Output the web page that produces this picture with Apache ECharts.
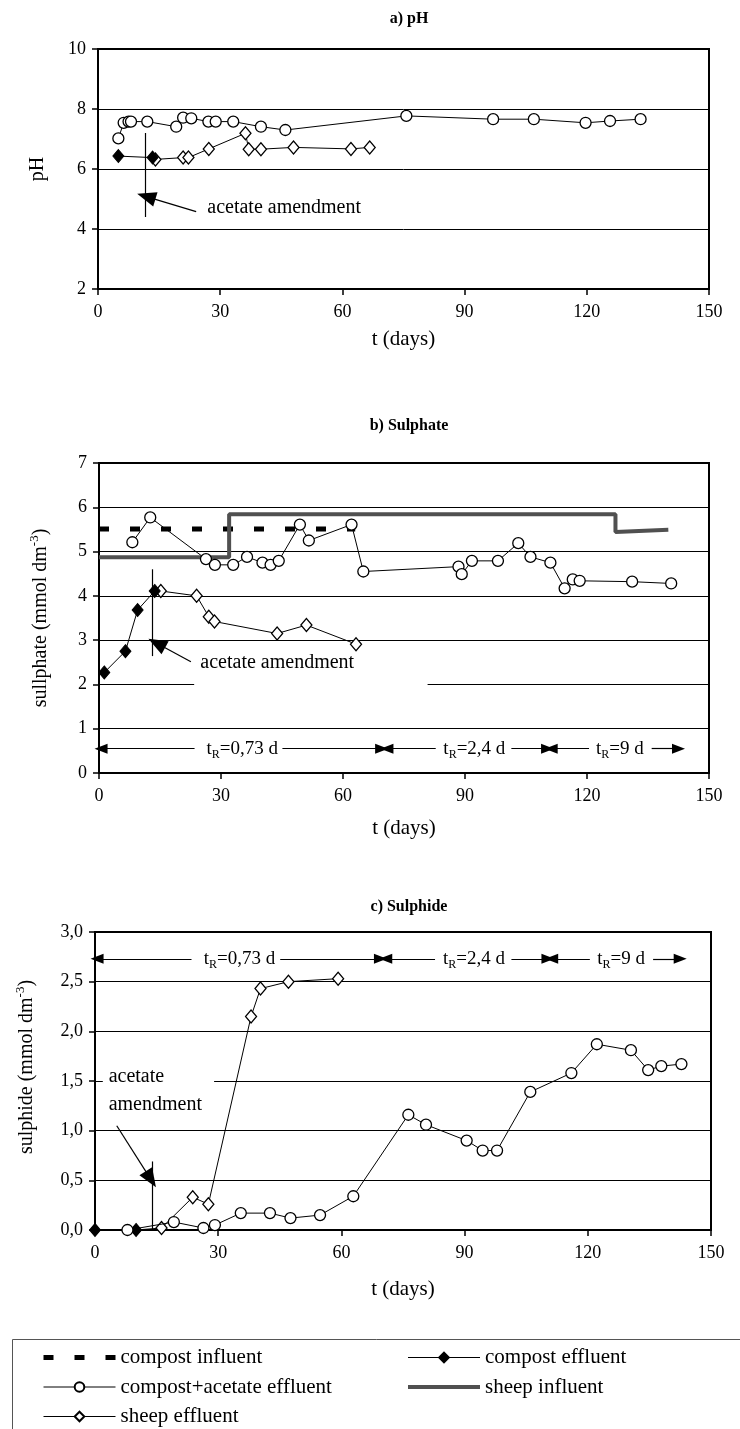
<!DOCTYPE html>
<html><head><meta charset="utf-8">
<script src="https://cdn.jsdelivr.net/npm/echarts@6/dist/echarts.min.js"></script>
<style>html,body{margin:0;padding:0;background:#fff}#c{width:740px;height:1429px}</style>
</head><body><div id="c"></div>
<script>
const FONT = '"Liberation Serif","Times New Roman",serif';

// ---------- tick labels ----------
const xTicks = [0, 30, 60, 90, 120, 150];
const phTicks = [2, 4, 6, 8, 10];
const so4Ticks = [0, 1, 2, 3, 4, 5, 6, 7];
const s2Ticks = [0, 0.5, 1.0, 1.5, 2.0, 2.5, 3.0];

// ---------- a) pH ----------
const phAcetateT = [5.0, 6.3, 7.5, 8.1, 12.1, 19.2, 20.9, 22.9, 27.1, 28.9, 33.2, 40, 46, 75.7, 97, 107, 119.7, 125.7, 133.2];
const phAcetate  = [7.02, 7.54, 7.58, 7.58, 7.58, 7.41, 7.71, 7.69, 7.58, 7.58, 7.58, 7.41, 7.30, 7.77, 7.66, 7.66, 7.54, 7.60, 7.66];
const phCompostT = [5.0, 13.4];
const phCompost  = [6.43, 6.38];
const phSheepT   = [14.1, 20.9, 22.2, 27.2, 36.2, 37, 40, 48, 62.1, 66.7];
const phSheep    = [6.32, 6.38, 6.38, 6.67, 7.19, 6.66, 6.66, 6.72, 6.67, 6.72];

// ---------- b) Sulphate ----------
const so4AcetateT = [8.2, 12.6, 26.3, 28.5, 33.0, 36.4, 40.2, 42.2, 44.2, 49.4, 51.6, 62.1, 65.0, 88.4, 89.2, 91.7, 98.1, 103.1, 106.1, 111.0, 114.5, 116.5, 118.2, 131.1, 140.7];
const so4Acetate  = [5.21, 5.77, 4.83, 4.70, 4.70, 4.88, 4.75, 4.70, 4.79, 5.61, 5.25, 5.61, 4.55, 4.66, 4.49, 4.79, 4.79, 5.19, 4.88, 4.75, 4.17, 4.37, 4.34, 4.32, 4.28];
const so4CompostT = [1.3, 6.5, 9.5, 13.7];
const so4Compost  = [2.27, 2.75, 3.68, 4.11];
const so4SheepT   = [15.2, 24, 27, 28.4, 43.8, 51, 63.2];
const so4Sheep    = [4.11, 4.00, 3.53, 3.42, 3.15, 3.34, 2.91];
const so4CompInfT = [0, 63];
const so4CompInf  = [5.51, 5.51];
const so4SheepInfT = [0, 32, 32, 127, 127, 140];
const so4SheepInf  = [4.87, 4.87, 5.84, 5.84, 5.44, 5.49];

// ---------- c) Sulphide ----------
const s2AcetateT = [7.9, 19.2, 26.4, 29.2, 35.5, 42.6, 47.6, 54.8, 62.9, 76.3, 80.6, 90.5, 94.4, 97.9, 106.0, 116.0, 122.2, 130.5, 134.7, 137.9, 142.8];
const s2Acetate  = [0.00, 0.08, 0.02, 0.05, 0.17, 0.17, 0.12, 0.15, 0.34, 1.16, 1.06, 0.90, 0.80, 0.80, 1.39, 1.58, 1.87, 1.81, 1.61, 1.65, 1.67];
const s2CompostT = [0, 10];
const s2Compost  = [0, 0];
const s2SheepT   = [16.2, 23.8, 27.6, 38.0, 40.3, 47.1, 59.2];
const s2Sheep    = [0.02, 0.33, 0.26, 2.15, 2.43, 2.50, 2.53];

// ---------- residence-time annotation text ----------
const tRLabels = ['0,73 d', '2,4 d', '9 d'];

function pairs(t, v) { return t.map((x, i) => [x, v[i]]); }

const chart = echarts.init(document.getElementById('c'), null, { renderer: 'canvas' });

const grids = [
  { left: 98, top: 49, width: 611, height: 240 },
  { left: 99, top: 463, width: 610, height: 310 },
  { left: 95, top: 932, width: 616, height: 298 }
].map(g => Object.assign(g, { show: true, borderColor: '#000', borderWidth: 2, backgroundColor: 'transparent' }));

function xAxis(i, gap) {
  return {
    gridIndex: i, type: 'value', min: xTicks[0], max: xTicks[xTicks.length - 1], interval: xTicks[1] - xTicks[0],
    name: 't (days)', nameLocation: 'middle', nameGap: gap,
    nameTextStyle: { fontFamily: FONT, fontSize: 21, color: '#000' },
    axisLine: { show: true, onZero: false, lineStyle: { color: '#000', width: 2 } },
    axisTick: { show: true, inside: false, length: 6, lineStyle: { color: '#000', width: 1.5 } },
    axisLabel: { fontFamily: FONT, fontSize: 18, color: '#000', margin: 14 },
    splitLine: { show: false }
  };
}
function yAxis(i, ticks, name, gap, fmt, pad) {
  return {
    gridIndex: i, type: 'value', min: ticks[0], max: ticks[ticks.length - 1], interval: ticks[1] - ticks[0],
    name: name, nameLocation: 'middle', nameGap: gap,
    nameTextStyle: { fontFamily: FONT, fontSize: 20, color: '#000', padding: pad || 0,
      rich: { sup: { fontFamily: FONT, fontSize: 13, color: '#000', verticalAlign: 'top', padding: [0, 0, 12, 0] } } },
    axisLine: { show: true, onZero: false, lineStyle: { color: '#000', width: 2 } },
    axisTick: { show: true, inside: false, length: 6, lineStyle: { color: '#000', width: 1.5 } },
    axisLabel: { fontFamily: FONT, fontSize: 18, color: '#000', margin: 12, formatter: fmt },
    splitLine: { show: true, lineStyle: { color: '#000', width: 1 } }
  };
}

const circleStyle = { symbol: 'circle', symbolSize: 11, itemStyle: { color: '#fff', borderColor: '#000', borderWidth: 1.3 } };
const fDiamond = { symbol: 'diamond', symbolSize: [11, 13], itemStyle: { color: '#000', borderColor: '#000', borderWidth: 1 } };
const oDiamond = { symbol: 'diamond', symbolSize: [11, 13], itemStyle: { color: '#fff', borderColor: '#000', borderWidth: 1.3 } };

function lineSeries(name, i, data, sym, z) {
  return Object.assign({
    name: name, type: 'line', xAxisIndex: i, yAxisIndex: i, data: data,
    showAllSymbol: true, lineStyle: { color: '#000', width: 1 }, z: z || 4, silent: true, animation: false
  }, sym);
}
function sheepData(cT, cV, sT, sV) {
  const d = [{ value: [cT[cT.length - 1], cV[cV.length - 1]], symbol: 'none' }];
  return d.concat(pairs(sT, sV));
}

const series = [];
// a)
series.push(lineSeries('sheep effluent', 0, sheepData(phCompostT, phCompost, phSheepT, phSheep), oDiamond));
series.push(lineSeries('compost effluent', 0, pairs(phCompostT, phCompost), fDiamond, 5));
series.push(lineSeries('compost+acetate effluent', 0, pairs(phAcetateT, phAcetate), circleStyle, 6));
// b)
series.push({ name: 'compost influent', type: 'line', xAxisIndex: 1, yAxisIndex: 1, data: pairs(so4CompInfT, so4CompInf),
  symbol: 'none', lineStyle: { color: '#000', width: 5, type: [10, 21], cap: 'butt' }, itemStyle: { color: '#000' }, z: 3, silent: true, animation: false });
series.push({ name: 'sheep influent', type: 'line', xAxisIndex: 1, yAxisIndex: 1, data: pairs(so4SheepInfT, so4SheepInf),
  symbol: 'none', lineStyle: { color: '#505050', width: 4 }, itemStyle: { color: '#505050' }, z: 3, silent: true, animation: false });
series.push(lineSeries('sheep effluent', 1, sheepData(so4CompostT, so4Compost, so4SheepT, so4Sheep), oDiamond));
series.push(lineSeries('compost effluent', 1, pairs(so4CompostT, so4Compost), fDiamond, 5));
series.push(lineSeries('compost+acetate effluent', 1, pairs(so4AcetateT, so4Acetate), circleStyle, 6));
// c)
series.push(lineSeries('sheep effluent', 2, sheepData(s2CompostT, s2Compost, s2SheepT, s2Sheep), oDiamond));
series.push(lineSeries('compost effluent', 2, pairs(s2CompostT, s2Compost), fDiamond, 5));
series.push(lineSeries('compost+acetate effluent', 2, pairs(s2AcetateT, s2Acetate), circleStyle, 6));

// ---------- annotations ----------
const txt = { fontFamily: FONT, fontSize: 20, color: '#000' };
function seg(a, b, head, size) {
  return [{ coord: a, symbol: 'none' }, { coord: b, symbol: head ? 'triangle' : 'none', symbolSize: size || [10, 13] }];
}
function textPoint(coord, text, pos, extra) {
  return { coord: coord, symbol: 'rect', symbolSize: 1, itemStyle: { color: 'rgba(0,0,0,0)' },
    label: Object.assign({ show: true, position: pos, distance: 0, formatter: text }, txt, extra || {}) };
}
const tRich = { n: { fontFamily: FONT, fontSize: 19, color: '#000' }, s: { fontFamily: FONT, fontSize: 12, color: '#000', padding: [12, 0, 0, 0] } };
function tRAnnot(y) {
  const spans = [[0.5, 23.5, 45.1, 69.5, 35.2], [70.8, 82.8, 101.4, 110.3, 92.3], [111.2, 120.5, 135.9, 142.5, 128.1]];
  const lines = [], pts = [];
  spans.forEach((s, k) => {
    lines.push(seg([s[1], y], [s[0], y], true));
    lines.push(seg([s[2], y], [s[3], y], true));
    pts.push(textPoint([s[4], y], '{n|t}{s|R}{n|=' + tRLabels[k] + '}', 'inside', { rich: tRich }));
  });
  return { lines, pts };
}
function annotSeries(i, lines, pts, areas) {
  const out = [];
  if (areas) out.push({ type: 'line', xAxisIndex: i, yAxisIndex: i, data: [], z: 1, silent: true, animation: false,
    markArea: { silent: true, itemStyle: { color: '#fff' }, data: areas } });
  out.push({ type: 'line', xAxisIndex: i, yAxisIndex: i, data: [], z: 3, silent: true, animation: false,
    markLine: { silent: true, symbol: ['none', 'none'], lineStyle: { color: '#000', width: 1.2, type: 'solid' }, label: { show: false }, data: lines },
    markPoint: { silent: true, data: pts } });
  return out;
}
// a
series.push(...annotSeries(0,
  [seg([11.6, 7.2], [11.6, 4.4]), seg([24.1, 4.58], [11.85, 5.08], true, [15, 19])],
  [textPoint([26.7, 4.7], 'acetate amendment', 'right')]));
// b
const tb = tRAnnot(0.55);
series.push(...annotSeries(1,
  [seg([13.2, 4.6], [13.2, 2.64]), seg([22.6, 2.51], [14.2, 2.93], true, [15, 19])].concat(tb.lines),
  [textPoint([24.8, 2.48], 'acetate amendment', 'right')].concat(tb.pts),
  [[{ coord: [23.4, 1.8] }, { coord: [80.8, 2.2] }]]));
// c
const tc = tRAnnot(2.73);
series.push(...annotSeries(2,
  [seg([13.9, 0.69], [13.9, 0]), seg([5.3, 1.05], [13.6, 0.51], true, [15, 19])].concat(tc.lines),
  [textPoint([3.2, 1.40], 'acetate\namendment', 'right', { lineHeight: 28 })].concat(tc.pts),
  [[{ coord: [1.9, 1.44] }, { coord: [29, 1.56] }]]));

const titleStyle = { fontFamily: FONT, fontSize: 16, fontWeight: 'bold', color: '#000' };
const hidden = { color: 'rgba(0,0,0,0)', borderColor: 'rgba(0,0,0,0)', borderWidth: 0 };
const legendBase = { orient: 'vertical', top: 1347, padding: 0, itemWidth: 72, itemHeight: 12, itemGap: 8.5, selectedMode: false,
  lineStyle: { width: 1 },
  textStyle: { fontFamily: FONT, fontSize: 21, color: '#000', lineHeight: 20 } };

chart.setOption({
  animation: false,
  backgroundColor: '#fff',
  title: [
    { text: 'a) pH', left: 404, top: 6, textAlign: 'center', textStyle: titleStyle },
    { text: 'b) Sulphate', left: 404, top: 413, textAlign: 'center', textStyle: titleStyle },
    { text: 'c) Sulphide', left: 404, top: 894, textAlign: 'center', textStyle: titleStyle }
  ],
  grid: grids,
  xAxis: [xAxis(0, 40), xAxis(1, 45), xAxis(2, 49)],
  yAxis: [
    yAxis(0, phTicks, 'pH', 50),
    yAxis(1, so4Ticks, 'sullphate (mmol dm{sup|-3})', 46),
    yAxis(2, s2Ticks, 'sulphide (mmol dm{sup|-3})', 56, v => v.toFixed(1).replace('.', ','), [0, 0, 0, 28])
  ],
  legend: [
    Object.assign({ left: 41, data: [
      { name: 'compost influent', itemStyle: hidden, lineStyle: { width: 5 } },
      'compost+acetate effluent',
      'sheep effluent'] }, legendBase),
    Object.assign({ left: 406, data: [
      'compost effluent',
      { name: 'sheep influent', itemStyle: hidden, lineStyle: { width: 4 } }] }, legendBase)
  ],
  graphic: [
    { type: 'rect', shape: { x: 12.5, y: 1339.5, width: 760, height: 120 }, style: { fill: 'none', stroke: '#555', lineWidth: 1 }, z: -1 }
  ],
  series: series
});
</script></body></html>
